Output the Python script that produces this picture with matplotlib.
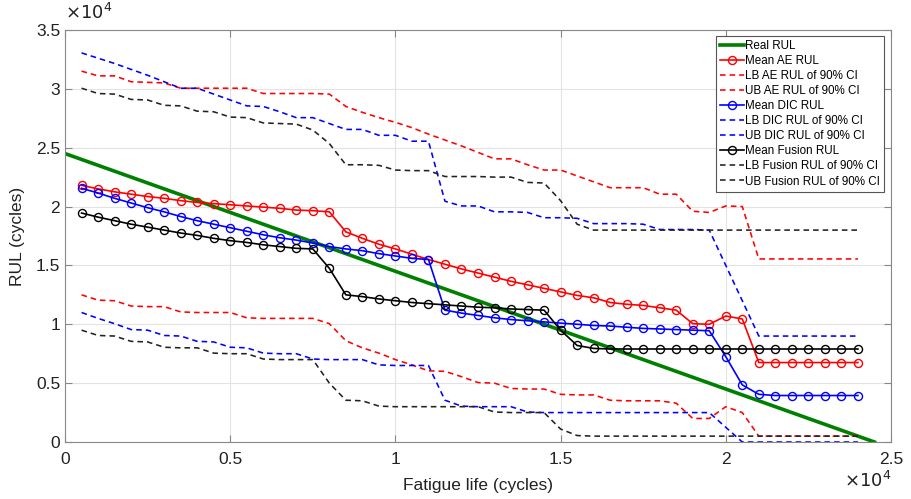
import numpy as np
import matplotlib
matplotlib.use("Agg")
import matplotlib.pyplot as plt
from matplotlib.ticker import FuncFormatter

plt.rcParams['font.family'] = ['Liberation Sans', 'DejaVu Sans']

# fatigue life in cycles, one point every 500 cycles
cycles = list(range(500, 24001, 500))
real_x = [0, 24500]
real_rul = [24500, 0]

# mean RUL predictions
mean_ae = [21800, 21500, 21250, 21050, 20850, 20700, 20500, 20350, 20250, 20150,
           20050, 19950, 19850, 19700, 19650, 19550, 17850, 17300, 16800, 16400,
           15950, 15500, 15100, 14700, 14350, 14000, 13650, 13350, 13050, 12750,
           12450, 12250, 11850, 11700, 11600, 11400, 11200, 10050, 10000, 10700,
           10450] + [6750] * 7
mean_dic = [21550, 21150, 20700, 20300, 19900, 19550, 19150, 18800, 18500, 18200,
            17900, 17600, 17350, 17150, 16900, 16600, 16400, 16250, 16000, 15800,
            15600, 15500, 11200, 10950, 10750, 10550, 10400, 10300, 10200, 10100,
            10000, 9900, 9850, 9750, 9650, 9600, 9550, 9500, 9450, 7250,
            4850, 4050] + [3950] * 6
mean_fus = [19450, 19100, 18800, 18500, 18250, 18000, 17750, 17550, 17300, 17100,
            16950, 16750, 16600, 16450, 16400, 14750, 12500, 12350, 12150, 12000,
            11850, 11750, 11650, 11550, 11450, 11400, 11300, 11250, 11200, 9500,
            8200, 7950] + [7900] * 16

# 90% confidence bounds
lb_ae = [12500, 12050, 12000, 11550, 11500, 11500, 11050, 11000, 11000, 11000,
         10550, 10500, 10500, 10500, 10500, 10050, 8600, 8000, 7550, 7000,
         6550, 6050, 6000, 5550, 5050, 5000, 4550, 4500, 4500, 4050,
         4000, 4000, 3550, 3500, 3500, 3500, 3300, 2000, 2000, 3000,
         2500] + [500] * 7
ub_ae = [31500, 31100, 31100, 30600, 30550, 30500, 30050, 30050, 30050, 30050,
         30050, 29600, 29600, 29600, 29600, 29550, 28500, 28000, 27550, 27150,
         26700, 26150, 25650, 25150, 24600, 24050, 24050, 23550, 23100, 23100,
         22600, 22100, 21600, 21600, 21600, 21050, 21050, 19600, 19500, 20050,
         20000] + [15550] * 7
lb_dic = [11000, 10500, 10050, 9550, 9500, 9050, 9000, 8550, 8500, 8050,
          8000, 7550, 7500, 7500, 7050, 7000, 7000, 7000, 6550, 6500,
          6500, 6500, 3550, 3050, 3000, 3000, 3000, 2550] + [2500] * 11 + [1250] + [0] * 8
ub_dic = [33050, 32600, 32150, 31650, 31150, 30600, 30050, 30050, 29550, 29050,
          28550, 28500, 28050, 27550, 27550, 27050, 26550, 26550, 26050, 26050,
          25550, 25550, 20450, 20050, 20050, 19550, 19550, 19500, 19050, 19050,
          19000, 18550, 18550, 18550, 18500, 18050, 18050, 18050, 18000, 15000,
          12000] + [9000] * 7
lb_fus = [9500, 9050, 9000, 8550, 8500, 8050, 8000, 8000, 7550, 7500,
          7500, 7050, 7000, 7000, 7000, 5000, 3550, 3500, 3050, 3000,
          3000, 3000, 3000, 3000, 3000, 2550, 2500, 2500, 2500, 1100,
          550] + [500] * 17
ub_fus = [30050, 29600, 29550, 29100, 29050, 28600, 28550, 28100, 28050, 27600,
          27550, 27100, 27050, 27000, 26500, 25350, 23550, 23550, 23500, 23100,
          23050, 23050, 22550, 22550, 22550, 22500, 22500, 22050, 22000, 20500,
          18500] + [18000] * 17

fig = plt.figure(figsize=(9.11, 4.99), dpi=100)
ax = fig.add_axes([0.0714, 0.1142, 0.9066, 0.8258])

green = (0, 0.5, 0)
dash = (0, (3.5, 2.5))
mk = dict(marker='o', markersize=5.8, fillstyle='none', markeredgewidth=1.0)

ax.plot(real_x, real_rul, color=green, lw=2.6, label='Real RUL')
ax.plot(cycles, mean_ae, color='r', lw=1.2, label='Mean AE RUL', **mk)
ax.plot(cycles, lb_ae, color='r', lw=1.15, ls=dash, label='LB AE RUL of 90% CI')
ax.plot(cycles, ub_ae, color='r', lw=1.15, ls=dash, label='UB AE RUL of 90% CI')
ax.plot(cycles, mean_dic, color='b', lw=1.2, label='Mean DIC RUL', **mk)
ax.plot(cycles, lb_dic, color='b', lw=1.15, ls=dash, label='LB DIC RUL of 90% CI')
ax.plot(cycles, ub_dic, color='b', lw=1.15, ls=dash, label='UB DIC RUL of 90% CI')
ax.plot(cycles, mean_fus, color='k', lw=1.2, label='Mean Fusion RUL', **mk)
ax.plot(cycles, lb_fus, color='#222222', lw=1.15, ls=dash, label='LB Fusion RUL of 90% CI')
ax.plot(cycles, ub_fus, color='#222222', lw=1.15, ls=dash, label='UB Fusion RUL of 90% CI')

ax.set_xlim(0, 25000)
ax.set_ylim(0, 35000)
ax.set_xticks(np.arange(0, 25001, 5000))
ax.set_yticks(np.arange(0, 35001, 5000))
fmt = FuncFormatter(lambda v, p: f"{v / 1e4:g}")
ax.xaxis.set_major_formatter(fmt)
ax.yaxis.set_major_formatter(fmt)
ax.tick_params(direction='in', length=5, width=0.8, color='#888888',
               labelsize=12.5, labelcolor='#222222', top=True, right=True)
ax.tick_params(axis='x', pad=7)
for s in ax.spines.values():
    s.set_color('#888888')
    s.set_linewidth(0.8)
ax.grid(True, color='#e3e3e3', lw=0.8)
ax.set_axisbelow(True)

ax.set_xlabel('Fatigue life (cycles)', fontsize=12.5, color='#222222', labelpad=8)
ax.set_ylabel('RUL (cycles)', fontsize=12.5, color='#222222', labelpad=8)
fig.text(0.071, 0.953, r'$\times10^{4}$', fontsize=13, color='#222222', ha='left', va='bottom')
fig.text(0.978, 0.016, r'$\times10^{4}$', fontsize=13, color='#222222', ha='right', va='bottom')

leg = ax.legend(loc='upper right', bbox_to_anchor=(0.992, 0.985), fontsize=8.4,
                frameon=True, fancybox=False, framealpha=1, edgecolor='#555555',
                handlelength=2.0, handletextpad=0.15, labelspacing=0.26,
                borderpad=0.35, borderaxespad=0)
leg.get_frame().set_linewidth(0.8)

fig.savefig('out.png', dpi=100)
